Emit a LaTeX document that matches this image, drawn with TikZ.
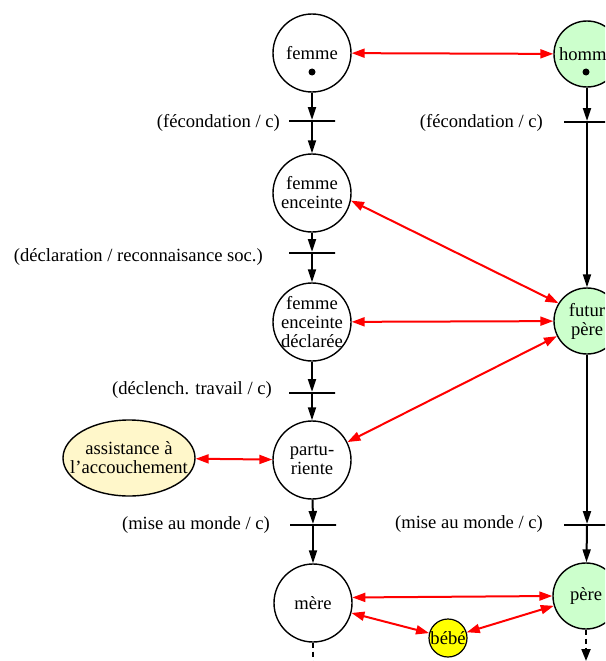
\documentclass[tikz,border=0pt]{standalone}
\usepackage{fontspec}
\setmainfont{Liberation Serif}
\usetikzlibrary{arrows.meta,shapes.geometric}
\definecolor{placegreen}{HTML}{CCFFCC}
\definecolor{assistfill}{HTML}{FFF7CA}
\definecolor{babyyellow}{HTML}{FFFF00}
\begin{document}
\begin{tikzpicture}[x=1pt,y=-1pt,
  every node/.style={font=\fontsize{18.6}{19}\selectfont},
  place/.style={circle,draw,line width=1.4pt,minimum size=78pt,inner sep=0pt,fill=white},
  gplace/.style={circle,draw,line width=1.4pt,minimum size=66pt,inner sep=0pt,fill=placegreen},
  txt/.style={align=center,inner sep=0pt},
  token/.style={circle,fill=black,minimum size=7pt,inner sep=0pt},
  trans/.style={rectangle,draw,line width=2pt,minimum width=46pt,minimum height=0pt,inner sep=0pt},
  tlabel/.style={anchor=east,inner sep=0pt},
  flow/.style={line width=2pt,-{Triangle[length=13pt,width=8pt]}},
  next/.style={line width=2pt,dashed,dash pattern=on 5pt off 4pt,-{Triangle[length=12pt,width=9pt]}},
  rel/.style={red,line width=2pt,{Triangle[length=13pt,width=9pt]}-{Triangle[length=13pt,width=9pt]}}
]
\useasboundingbox (0,0) rectangle (605,661);
\clip (0,0) rectangle (605,661);

% places of the woman
\node[place, label={[txt]center:femme}] (femme) at (312,53) {};
\node[token] (tokf) at (312,72) {};
\node[place, label={[txt]center:femme\\enceinte}] (enceinte) at (312,193) {};
\node[place, label={[txt]center:femme\\enceinte\\déclarée}] (decl) at (312,322) {};
\node[place, label={[txt]center:partu-\\riente}] (partu) at (312,460) {};
\node[place, label={[txt]center:mère}] (mere) at (313,603) {};

% places of the man
\node[gplace, label={[txt]center:homme}] (homme) at (587,54) {};
\node[token] (tokh) at (586,72) {};
\node[gplace, label={[txt]center:futur\\père}] (futur) at (587,321) {};
\node[gplace, label={[txt]center:père}] (pere) at (586,596) {};

% other actors
\node[ellipse,draw,line width=1.4pt,fill=assistfill,minimum width=132pt,minimum height=76pt,inner sep=0pt,
      label={[txt]center:assistance à\\l’accouchement}] (assist) at (129,458) {};
\node[circle,draw,line width=1.2pt,fill=babyyellow,minimum size=38pt,inner sep=0pt,
      label={[txt]center:bébé}] (bebe) at (448,638) {};

% transitions
\node[trans] (t1) at (312,121) {};
\node[trans] (t2) at (312,253) {};
\node[trans] (t3) at (312,393) {};
\node[trans] (t4) at (313,525) {};
\node[trans] (t1r) at (587,122) {};
\node[trans] (t4r) at (587,525) {};

% transition labels
\node[tlabel] (l1) at (280,123) {(fécondation / c)};
\node[tlabel] (l2) at (263,257) {(déclaration / reconnaisance soc.)};
\node[tlabel] (l3) at (272,390) {(déclench. travail / c)};
\node[tlabel] (l4) at (270,525) {(mise au monde / c)};
\node[tlabel] (l1r) at (543,123) {(fécondation / c)};
\node[tlabel] (l4r) at (543,524) {(mise au monde / c)};

% token flow
\draw[flow] (femme) -- (t1);
\draw[flow] (t1) -- (enceinte);
\draw[flow] (enceinte) -- (t2);
\draw[flow] (t2) -- (decl);
\draw[flow] (decl) -- (t3);
\draw[flow] (t3) -- (partu);
\draw[flow] (partu) -- (t4);
\draw[flow] (t4) -- (mere);
\draw[flow] (homme) -- (t1r);
\draw[flow] (t1r) -- (futur);
\draw[flow] (futur) -- (t4r);
\draw[flow] (t4r) -- (pere);

% continuation below the last places
\coordinate (mereout) at (313,673);
\coordinate (pereout) at (586,661);
\draw[next] (mere) -- (mereout);
\draw[next] (pere) -- (pereout);

% relations
\draw[rel] (femme) -- (homme);
\draw[rel] (enceinte.-11) -- (futur.148);
\draw[rel] (decl) -- (futur);
\draw[rel] (partu) -- (futur);
\draw[rel] (assist) -- (partu);
\draw[rel] (mere.8) -- (pere.west);
\draw[rel] (mere) -- (bebe);
\draw[rel] (pere) -- (bebe);
\end{tikzpicture}
\end{document}
